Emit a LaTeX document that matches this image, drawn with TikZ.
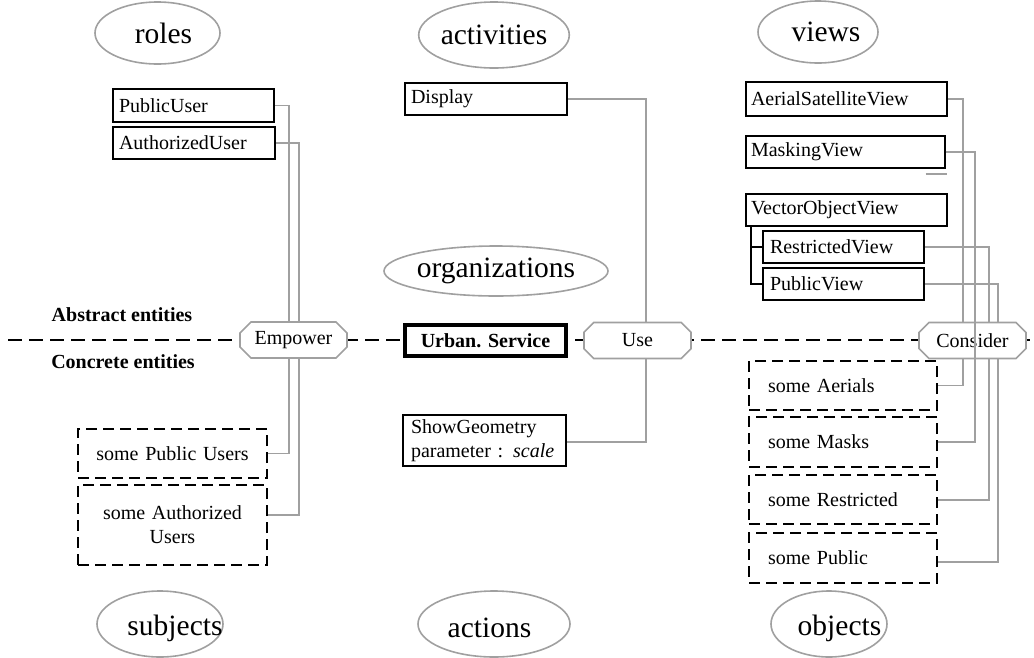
\documentclass[tikz,border=0pt]{standalone}
\usepackage{fontspec}
\setmainfont{Liberation Serif}
\usetikzlibrary{shapes.geometric,shapes.misc,backgrounds,calc}
\definecolor{linegray}{RGB}{160,160,160}
% label set off to the side by #1, lowered through a taller strut
\newcommand{\offsettext}[3]{\rule{0pt}{#2}\makebox[0pt]{\hspace*{#1}#3}}

\begin{document}
\begin{tikzpicture}[x=1pt,y=-1pt,
  every node/.style={font=\fontsize{20}{24}\selectfont},
  category/.style={ellipse, draw=linegray, line width=1.6pt, inner sep=0pt,
    font=\fontsize{29.5}{32}\selectfont},
  relation/.style={chamfered rectangle, chamfered rectangle xsep=8pt,
    draw=linegray, line width=1.6pt, fill=white, inner sep=0pt,
    minimum width=107pt, minimum height=36pt},
  abstractbox/.style={draw, line width=1.4pt, fill=white, align=left,
    inner ysep=0pt},
  concretebox/.style={draw, line width=1.8pt, dash pattern=on 11pt off 6pt,
    inner ysep=0pt},
  link/.style={draw=linegray, line width=1.6pt},
  tree/.style={draw, line width=1.8pt},
  levelline/.style={draw, line width=1.8pt, dash pattern=on 14pt off 7pt},
  sidelabel/.style={font=\fontsize{20}{24}\selectfont\bfseries}
]
\useasboundingbox (0,0) rectangle (1034,657);

% category ellipses
\node[category, minimum width=125pt, minimum height=62pt] (roles) at (157.5,33) {\offsettext{12pt}{20pt}{roles}};
\node[category, minimum width=148pt, minimum height=66pt] (activities) at (494,35) {activities};
\node[category, minimum width=120pt, minimum height=62pt] (views) at (818,32) {\offsettext{16pt}{20pt}{views}};
\node[category, minimum width=188pt, minimum height=50pt] (orgs) at (496,271) {organizations};
\node[category, minimum width=126pt, minimum height=66pt] (subjects) at (160,624) {\offsettext{30pt}{30pt}{subjects}};
\node[category, minimum width=152pt, minimum height=66pt] (actions) at (494,624) {\offsettext{-9pt}{28pt}{actions}};
\node[category, minimum width=116pt, minimum height=66pt] (objects) at (829,624) {\offsettext{21pt}{30pt}{objects}};

% abstract entities
\node[abstractbox, inner xsep=6pt, text width=149pt, minimum height=33pt] (pu) at (193.5,105.5) {PublicUser};
\node[abstractbox, inner xsep=6pt, text width=150pt, minimum height=32pt] (au) at (194,143) {AuthorizedUser};
\node[abstractbox, inner xsep=6pt, text width=150pt, minimum height=32pt] (disp) at (486,99) {Display};
\node[abstractbox, inner xsep=5pt, text width=191pt, minimum height=34pt] (asv) at (846.5,99) {AerialSatelliteView};
\node[abstractbox, inner xsep=5pt, text width=189pt, minimum height=32pt] (mv) at (845.5,152) {MaskingView};
\node[abstractbox, inner xsep=5pt, text width=191pt, minimum height=32pt] (vov) at (846.5,210) {VectorObjectView};
\node[abstractbox, inner xsep=7pt, text width=147pt, minimum height=32pt] (rv) at (843.5,247) {RestrictedView};
\node[abstractbox, inner xsep=7pt, text width=147pt, minimum height=32pt] (pv) at (843.5,284) {PublicView};

% concrete entities
\node[abstractbox, inner xsep=8pt, text width=147pt, minimum height=51pt] (sg) at (484.5,440.5)
  {ShowGeometry\\parameter : \textit{scale}};
\node[concretebox, inner xsep=6pt, text width=177pt, align=center, minimum height=49pt] (spu) at (172.5,453.5) {some Public Users};
\node[concretebox, inner xsep=6pt, text width=177pt, align=center, minimum height=80pt] (sau) at (172.5,525) {some Authorized\\Users};
\node[concretebox, inner xsep=19pt, text width=150pt, align=left, minimum height=49pt] (sa) at (843,385.5) {some Aerials};
\node[concretebox, inner xsep=19pt, text width=150pt, align=left, minimum height=50pt] (sm) at (843,442) {some Masks};
\node[concretebox, inner xsep=19pt, text width=150pt, align=left, minimum height=49pt] (sr) at (843,499.5) {some Restricted};
\node[concretebox, inner xsep=19pt, text width=150pt, align=left, minimum height=50pt] (sp) at (843,558) {some Public};

% level separator and its labels
\coordinate (lineL) at (8,340);
\coordinate (lineR) at (1034,340);
\node[sidelabel] (abs) at (122,315) {Abstract entities};
\node[sidelabel] (con) at (123,362) {Concrete entities};

% relations on the separator
\node[relation] (empower) at (293.5,340) {Empower};
\node[draw, line width=4pt, fill=white, minimum width=161pt, minimum height=31pt, inner sep=0pt,
  font=\fontsize{20}{24}\selectfont\bfseries] (urban) at (485.5,340.5) {Urban. Service};
\node[relation] (use) at (637.5,340.5) {Use};
\node[relation] (consider) at (972.5,340.5) {Consider};

\begin{pgfonlayer}{background}
  \path[levelline] (lineL) -- (lineR);
  \path[link] (pu.east) -- ++(14,0) |- (spu.east);
  \path[link] (au.east) -- ++(23,0) |- ($(sau.east)+(0,-10)$);
  \path[link] (disp.east) -- ++(78,0) |- ($(sg.east)+(0,1.5)$);
  \path[link] (asv.east) -- ++(15,0) |- (sa.east);
  \path[link] (rv.east) -- ++(64,0) |- ($(sr.east)+(0,0.5)$);
  \path[link] (pv.east) -- ++(73,0) |- ($(sp.east)+(0,4)$);
\end{pgfonlayer}
\path[link] (mv.east) -- ++(29,0) |- (sm.east);
\path[link] ($(mv.south east)+(-20,5)$) -- ($(mv.south east)+(1,5)$);

% specialisation of the vector object view
\path[tree] ($(vov.south west)+(6,0)$) |- (pv.west);
\path[tree] ($(vov.south west)+(6,0)$) |- (rv.west);
\end{tikzpicture}
\end{document}
